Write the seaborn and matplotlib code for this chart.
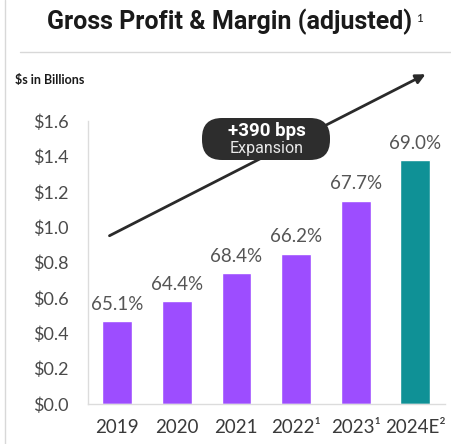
import matplotlib
matplotlib.use("Agg")
import matplotlib.pyplot as plt
import seaborn as sns
import pandas as pd
from matplotlib.patches import FancyBboxPatch
from matplotlib.lines import Line2D

years = ["2019", "2020", "2021", "2022¹", "2023¹", "2024E²"]
gross_profit = [0.47, 0.58, 0.74, 0.85, 1.15, 1.38]
margins = ["65.1%", "64.4%", "68.4%", "66.2%", "67.7%", "69.0%"]
colors = ["#9d4dff", "#9d4dff", "#9d4dff", "#9d4dff", "#9d4dff", "#0f9196"]
yticks = [0.0, 0.2, 0.4, 0.6, 0.8, 1.0, 1.2, 1.4, 1.6]

sns.set_theme(style="white")
plt.rcParams["font.family"] = ["Lato", "DejaVu Sans"]

W, H = 452, 444
fig = plt.figure(figsize=(W / 100, H / 100), dpi=100)
ax = fig.add_axes([88 / W, 40 / H, 357 / W, 283 / H])

df = pd.DataFrame({"year": years, "gp": gross_profit})
sns.barplot(data=df, x="year", y="gp", hue="year", palette=colors,
            legend=False, width=0.5, ax=ax, saturation=1)

ax.set_ylim(0, 1.6)
ax.set_xlim(-0.49, 5.5)
ax.set_yticks(yticks)
ax.set_yticklabels([f"${v:.1f}" for v in yticks])
ax.set_xlabel("")
ax.set_ylabel("")
ax.tick_params(axis="y", length=0, pad=14, labelsize=13, labelcolor="#4a4a4a")
ax.tick_params(axis="x", length=0, pad=11, labelsize=13.5, labelcolor="#3a3a3a")
for s in ["top", "right"]:
    ax.spines[s].set_visible(False)
for s in ["left", "bottom"]:
    ax.spines[s].set_color("#dcdcdc")
    ax.spines[s].set_linewidth(1.0)

for i, (v, m) in enumerate(zip(gross_profit, margins)):
    ax.annotate(m, (i, v), xytext=(0, 6), textcoords="offset points",
                ha="center", va="bottom", fontsize=13.5, color="#555555")

# decorative frame lines
fig.add_artist(Line2D([5 / W, 5 / W], [0, 1], transform=fig.transFigure,
                      color="#d8d8d8", lw=1))
fig.add_artist(Line2D([20 / W, 1], [(H - 52) / H, (H - 52) / H],
                      transform=fig.transFigure, color="#d8d8d8", lw=1))

# title
fig.text(230 / W, (H - 22) / H, "Gross Profit & Margin (adjusted)",
         ha="center", va="center", fontsize=18, fontweight="bold",
         color="#1a1a1a", family=["Roboto", "DejaVu Sans"])
fig.text(416 / W, (H - 19) / H, "1", ha="left", va="center", fontsize=8.5,
         color="#1a1a1a")
fig.text(15 / W, (H - 80) / H, "$s in Billions", ha="left", va="center",
         fontsize=9, fontweight="bold", color="#1a1a1a")

# arrow
ax.annotate("", xy=(428, H - 73), xycoords="figure pixels",
            xytext=(107, H - 237), textcoords="figure pixels",
            arrowprops=dict(arrowstyle="-|>", color="#2a2a2a", lw=2,
                            mutation_scale=14),
            annotation_clip=False)

# expansion pill
box = FancyBboxPatch((2.02, (H - 160) / 100), 1.28, 0.42,
                     boxstyle="round,pad=0,rounding_size=0.2",
                     transform=fig.dpi_scale_trans, facecolor="#2d2d2d",
                     edgecolor="none", zorder=5)
fig.add_artist(box)
fig.text(267 / W, (H - 131) / H, "+390 bps", ha="center", va="center",
         fontsize=13.5, fontweight="bold", color="white", zorder=6,
         family=["Roboto", "DejaVu Sans"])
fig.text(267 / W, (H - 149) / H, "Expansion", ha="center", va="center",
         fontsize=11.5, color="#e8e8e8", zorder=6,
         family=["Roboto", "DejaVu Sans"])

fig.savefig("out.png", dpi=100)
